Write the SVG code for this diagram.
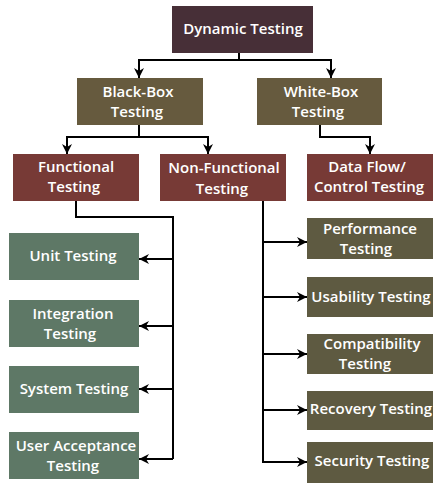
<svg xmlns="http://www.w3.org/2000/svg" width="440" height="487" viewBox="0 0 440 487">
<defs>
<marker id="arr" viewBox="0 0 10 10" refX="10" refY="5" markerWidth="10" markerHeight="10" markerUnits="userSpaceOnUse" orient="auto">
<path d="M0,0 L10,5 L0,10 L3,5 z" fill="#000"/>
</marker>
<style>
.t{font-family:"Open Sans","Liberation Sans",sans-serif;font-weight:600;font-size:15px;fill:#fff;text-anchor:middle}
.c{fill:none;stroke:#000;stroke-width:2}
.a{marker-end:url(#arr)}
.root{fill:#472f37}
.ol{fill:#665a3e}
.mr{fill:#773a36}
.gr{fill:#5e7866}
.ol2{fill:#5e5a41}
</style>
</defs>
<rect width="440" height="487" fill="#fff"/>
<g id="connectors">
<path class="c" d="M239,53 V60"/>
<path class="c a" d="M239,60 H139 V78"/>
<path class="c a" d="M239,60 H331 V78"/>
<path class="c" d="M139,125 V137"/>
<path class="c a" d="M139,137 H67 V154"/>
<path class="c a" d="M139,137 H208 V154"/>
<path class="c a" d="M320,125 V137 H370 V154"/>
<path class="c" d="M76,201 V217 H173 V459"/>
<path class="c a" d="M173,259 H139"/>
<path class="c a" d="M173,326 H139"/>
<path class="c a" d="M173,389 H139"/>
<path class="c a" d="M173,459 H139"/>
<path class="c" d="M263,201 V462"/>
<path class="c a" d="M263,242 H307"/>
<path class="c a" d="M263,297 H307"/>
<path class="c a" d="M263,354 H307"/>
<path class="c a" d="M263,410 H307"/>
<path class="c a" d="M262,462 H307"/>
</g>
<g id="dynamic"><rect class="root" x="172" y="6" width="141" height="47"/><text class="t" x="243" y="34">Dynamic Testing</text></g>
<g id="blackbox"><rect class="ol" x="77" y="78" width="126" height="47"/><text class="t" x="138" y="97">Black-Box</text><text class="t" x="137" y="117">Testing</text></g>
<g id="whitebox"><rect class="ol" x="257" y="78" width="125" height="47"/><text class="t" x="321" y="97">White-Box</text><text class="t" x="318" y="117">Testing</text></g>
<g id="functional"><rect class="mr" x="13" y="154" width="126" height="47"/><text class="t" x="76" y="172">Functional</text><text class="t" x="74" y="192">Testing</text></g>
<g id="nonfunctional"><rect class="mr" x="160" y="154" width="126" height="47"/><text class="t" x="224" y="173">Non-Functional</text><text class="t" x="222" y="194">Testing</text></g>
<g id="dataflow"><rect class="mr" x="307" y="154" width="126" height="47"/><text class="t" x="367" y="172">Data Flow/</text><text class="t" x="369" y="192">Control Testing</text></g>
<g id="unit"><rect class="gr" x="9" y="233" width="130" height="47"/><text class="t" x="73" y="261">Unit Testing</text></g>
<g id="integration"><rect class="gr" x="9" y="300" width="130" height="47"/><text class="t" x="73" y="319">Integration</text><text class="t" x="70" y="339">Testing</text></g>
<g id="system"><rect class="gr" x="9" y="366" width="130" height="47"/><text class="t" x="74" y="394">System Testing</text></g>
<g id="uat"><rect class="gr" x="9" y="432" width="130" height="47"/><text class="t" x="76" y="451">User Acceptance</text><text class="t" x="73" y="471">Testing</text></g>
<g id="performance"><rect class="ol2" x="307" y="218" width="126" height="41"/><text class="t" x="370" y="234">Performance</text><text class="t" x="366" y="254">Testing</text></g>
<g id="usability"><rect class="ol2" x="307" y="277" width="126" height="40"/><text class="t" x="371" y="302">Usability Testing</text></g>
<g id="compatibility"><rect class="ol2" x="307" y="334" width="126" height="40"/><text class="t" x="372" y="349">Compatibility</text><text class="t" x="365" y="369">Testing</text></g>
<g id="recovery"><rect class="ol2" x="307" y="391" width="126" height="39"/><text class="t" x="371" y="414">Recovery Testing</text></g>
<g id="security"><rect class="ol2" x="307" y="442" width="126" height="41"/><text class="t" x="372" y="466">Security Testing</text></g>
</svg>
